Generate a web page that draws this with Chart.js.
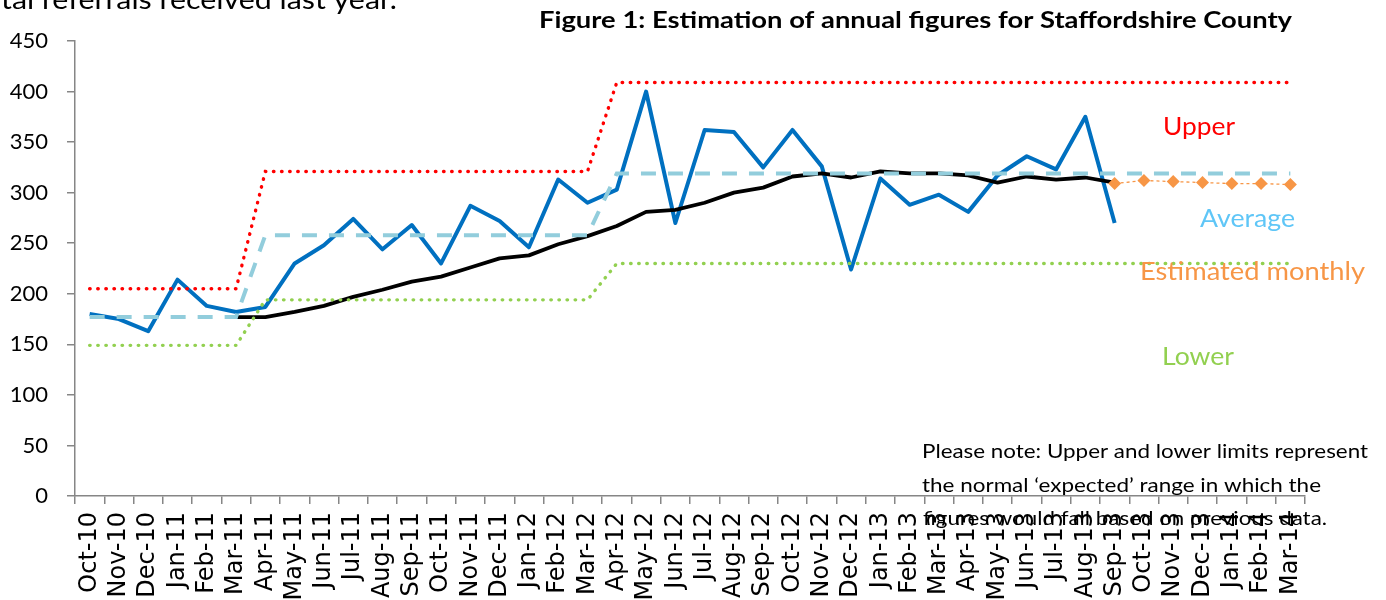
<!DOCTYPE html>
<html><head><meta charset="utf-8">
<script src="https://cdn.jsdelivr.net/npm/chart.js@4/dist/chart.umd.min.js"></script>
<style>html,body{margin:0;padding:0;background:#fff;overflow:hidden}#wrap{position:relative;width:1386px;height:600px}</style>
</head><body><div id="wrap"><canvas id="c" width="1386" height="600"></canvas></div>
<script>
const months = ["Oct-10","Nov-10","Dec-10","Jan-11","Feb-11","Mar-11","Apr-11","May-11","Jun-11","Jul-11","Aug-11","Sep-11","Oct-11","Nov-11","Dec-11","Jan-12","Feb-12","Mar-12","Apr-12","May-12","Jun-12","Jul-12","Aug-12","Sep-12","Oct-12","Nov-12","Dec-12","Jan-13","Feb-13","Mar-13","Apr-13","May-13","Jun-13","Jul-13","Aug-13","Sep-13","Oct-13","Nov-13","Dec-13","Jan-14","Feb-14","Mar-14"];
const actual = [180,175,163,214,188,182,187,230,248,274,244,268,230,287,272,246,313,290,303,400,270,362,360,325,362,326,224,314,288,298,281,317,336,323,375,270,null,null,null,null,null,null];
const rolling = [null,null,null,null,null,177,177,182,188,197,204,212,217,226,235,238,249,257,267,281,283,290,300,305,316,319,315,321,319,319,317,310,316,313,315,310,null,null,null,null,null,null];
const estimated = [null,null,null,null,null,null,null,null,null,null,null,null,null,null,null,null,null,null,null,null,null,null,null,null,null,null,null,null,null,null,null,null,null,null,null,309,312,311,310,309,309,308];
const upper = [205,205,205,205,205,205,321,321,321,321,321,321,321,321,321,321,321,321,409,409,409,409,409,409,409,409,409,409,409,409,409,409,409,409,409,409,409,409,409,409,409,409];
const average = [177,177,177,177,177,177,258,258,258,258,258,258,258,258,258,258,258,258,319,319,319,319,319,319,319,319,319,319,319,319,319,319,319,319,319,319,319,319,319,319,319,319];
const lower = [149,149,149,149,149,149,194,194,194,194,194,194,194,194,194,194,194,194,230,230,230,230,230,230,230,230,230,230,230,230,230,230,230,230,230,230,230,230,230,230,230,230];
const yTicks = {min:0, max:450, step:50};

const titleText = "Figure 1: Estimation of annual figures for Staffordshire County";
const topText = "tal referrals received last year.";
const noteLines = ["Please note: Upper and lower limits represent","the normal \u2018expected\u2019 range in which the","figures would fall based on previous data."];

const textPlugin = {
  id:'texts',
  afterDraw(chart){
    const ctx = chart.ctx;
    const put = (t,x,y,font,color,w)=>{
      ctx.save();
      ctx.font = font; ctx.fillStyle = color; ctx.textBaseline='alphabetic'; ctx.textAlign='left';
      const m = ctx.measureText(t).width;
      ctx.translate(x,y);
      if (w) ctx.scale(w/m,1);
      ctx.fillText(t,0,0);
      ctx.restore();
    };
    put(topText, 1, 9, '26px Lato', '#000', 396);
    put(titleText, 539, 28, 'bold 22px Lato', '#000', 753);
    put('Upper', 1163, 135, '25px Lato', '#FF0000', 72);
    put('Average', 1200, 227, '25px Lato', '#5FC6F7', 95);
    put('Estimated monthly', 1140, 280, '25px Lato', '#F79646', 225);
    put('Lower', 1162, 365, '25px Lato', '#92D050', 72);
    put(noteLines[0], 922, 458, '20px Lato', '#000', 446);
    put(noteLines[1], 922, 492, '20px Lato', '#000', 399);
    put(noteLines[2], 923, 525, '20px Lato', '#000', 404);
  }
};

const dotted = [0.5, 7.6];
new Chart(document.getElementById('c'), {
  type:'line',
  data:{
    labels: months,
    datasets:[
      {label:'Estimated monthly', data:estimated, borderColor:'#F79646', borderWidth:1.3, borderDash:[3,3], pointStyle:'rectRot', pointRadius:6.5, pointBackgroundColor:'#F79646', pointBorderColor:'#F79646', pointBorderWidth:0, order:1},
      {label:'Lower', data:lower, borderColor:'#92D050', borderWidth:3.4, borderDash:dotted, borderCapStyle:'round', pointRadius:0, order:2},
      {label:'Upper', data:upper, borderColor:'#FF0000', borderWidth:3.4, borderDash:dotted, borderCapStyle:'round', pointRadius:0, order:3},
      {label:'Average', data:average, borderColor:'#92CDDC', borderWidth:4, borderDash:[15,12], pointRadius:0, order:4},
      {label:'Rolling', data:rolling, borderColor:'#000000', borderWidth:3.8, borderJoinStyle:'round', pointRadius:0, order:5},
      {label:'Actual', data:actual, borderColor:'#0070C0', borderWidth:4, borderJoinStyle:'round', pointRadius:0, order:6}
    ]
  },
  options:{
    responsive:false, animation:false, devicePixelRatio:1,
    layout:{padding:{top:41, right:81, bottom:0, left:0}},
    elements:{line:{tension:0, fill:false}},
    plugins:{legend:{display:false}, tooltip:{enabled:false}, title:{display:false}},
    scales:{
      x:{
        type:'category', offset:true,
        grid:{offset:true, drawOnChartArea:false, drawTicks:true, tickLength:8, color:'#868686', lineWidth:1.5},
        border:{color:'#868686', width:1.5},
        ticks:{autoSkip:false, minRotation:90, maxRotation:90, padding:8, color:'#000', font:{family:'DejaVu Sans', size:24}},
        afterFit(s){ s.height = 104; }
      },
      y:{
        min:yTicks.min, max:yTicks.max,
        grid:{drawOnChartArea:false, drawTicks:true, tickLength:8, color:'#868686', lineWidth:1.5},
        border:{color:'#868686', width:1.5},
        ticks:{stepSize:yTicks.step, padding:19, color:'#000', font:{family:'Lato', size:22}},
        afterFit(s){ s.width = 75; }
      }
    }
  },
  plugins:[textPlugin]
});
</script></body></html>
